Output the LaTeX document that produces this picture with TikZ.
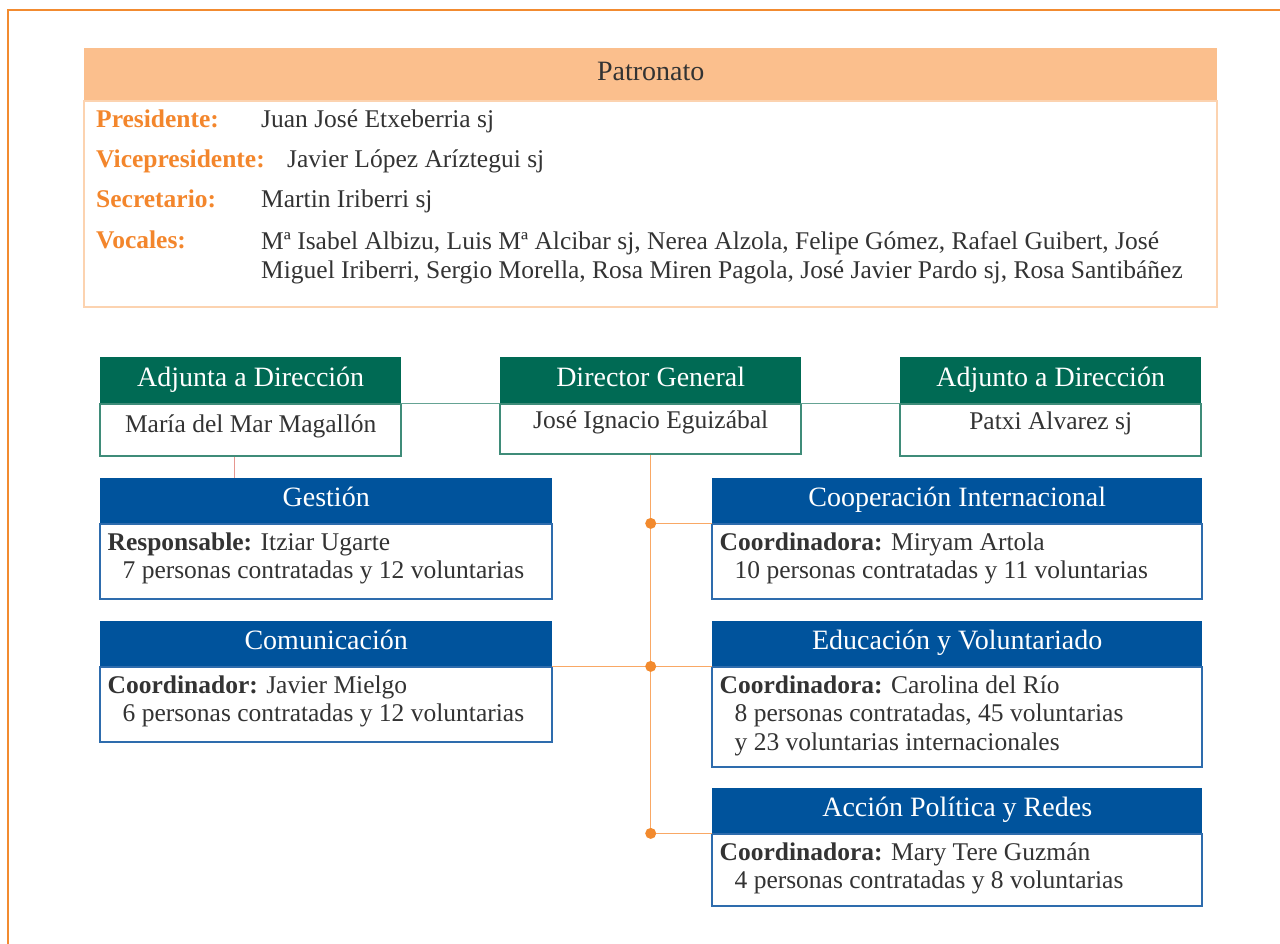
\documentclass[tikz,border=0pt]{standalone}
\usepackage{fontspec}
\setmainfont{Liberation Serif}
\usetikzlibrary{positioning}

\definecolor{framecol}{HTML}{F28B30}
\definecolor{peach}{HTML}{FBBF8D}
\definecolor{peachline}{HTML}{FCD3B0}
\definecolor{labelcol}{HTML}{F3862C}
\definecolor{textgray}{HTML}{333333}
\definecolor{dirgreen}{HTML}{006A54}
\definecolor{dirline}{HTML}{3F8C79}
\definecolor{areablue}{HTML}{00539C}
\definecolor{arealine}{HTML}{2E6CAD}
\definecolor{trunkcol}{HTML}{F9A865}
\definecolor{dotcol}{HTML}{F28A2E}
\definecolor{pinkcol}{HTML}{E6968F}

\tikzset{
  headfont/.style={font=\fontsize{28}{30}\selectfont},
  bodyfont/.style={font=\fontsize{25.5}{28.5}\selectfont},
  labelfont/.style={font=\fontsize{25.5}{28.5}\selectfont\bfseries},
  patrohead/.style={fill=peach, text=textgray, headfont, minimum width=1133pt,
    inner sep=0pt, text height=32pt, text depth=20pt, anchor=north west},
  patrobody/.style={draw=peachline, line width=1.5pt, minimum width=1133pt,
    minimum height=206pt, inner sep=0pt},
  patrolabel/.style={text=labelcol, labelfont, inner sep=0pt, anchor=base west},
  patroname/.style={text=textgray, bodyfont, inner sep=0pt, anchor=base west, align=left},
  greenhead/.style={fill=dirgreen, text=white, headfont, minimum width=301pt,
    inner sep=0pt, text height=29pt, text depth=17pt, anchor=north west},
  greenbody/.style={draw=dirline, line width=1.5pt, fill=white, text=textgray, bodyfont,
    minimum width=301pt, inner sep=0pt, text height=28pt, text depth=24pt},
  bluehead/.style={fill=areablue, text=white, headfont, inner sep=0pt,
    text height=28pt, text depth=17pt, anchor=north west},
  bluebody/.style={draw=arealine, line width=1.5pt, fill=white, inner sep=0pt},
  areatext/.style={text=textgray, bodyfont, align=left, inner sep=0pt},
  dirconn/.style={draw=dirline!80, line width=1.5pt},
  pinkconn/.style={draw=pinkcol, line width=1.5pt},
  trunk/.style={draw=trunkcol, line width=1.5pt}
}

\begin{document}
\begin{tikzpicture}[x=1pt, y=-1pt]
  \useasboundingbox (0,0) rectangle (1280,944);
  \draw[framecol, line width=1.5pt] (8,944) -- (8,10) -- (1280,10);

  % Patronato
  \node[patrohead] (patrohead) at (84,48) {Patronato};
  \node[patrobody, below=0pt of patrohead] (patrobody) {};
  \node[patrolabel] (lpres) at (96,128) {Presidente:};
  \node[patroname] (npres) at (261,128) {Juan José Etxeberria sj};
  \node[patrolabel] (lvice) at (96,168) {Vicepresidente:};
  \node[patroname] (nvice) at (287,168) {Javier López Aríztegui sj};
  \node[patrolabel] (lsecr) at (96,208) {Secretario:};
  \node[patroname] (nsecr) at (261,208) {Martin Iriberri sj};
  \node[patrolabel] (lvoca) at (96,249) {Vocales:};
  \node[patroname, anchor=north west] (nvoca) at (261,231.5)
    {Mª Isabel Albizu, Luis Mª Alcibar sj, Nerea Alzola, Felipe Gómez, Rafael Guibert, José\\
     Miguel Iriberri, Sergio Morella, Rosa Miren Pagola, José Javier Pardo sj, Rosa Santibáñez};

  % Direccion
  \node[greenhead] (adjAhead) at (100,357) {Adjunta a Dirección};
  \node[greenbody, below=0pt of adjAhead] (adjAbody) {María del Mar Magallón};
  \node[greenhead] (dirhead) at (500,357) {Director General};
  \node[greenbody, below=0pt of dirhead, text height=24pt, text depth=26pt] (dirbody)
    {José Ignacio Eguizábal};
  \node[greenhead] (adjOhead) at (900,357) {Adjunto a Dirección};
  \node[greenbody, below=0pt of adjOhead, text height=25pt, text depth=27pt] (adjObody)
    {Patxi Alvarez sj};

  % Areas
  \node[bluehead, minimum width=452pt] (gesthead) at (100,478) {Gestión};
  \node[bluebody, minimum width=452pt, minimum height=75pt, below=0pt of gesthead] (gestbody) {};
  \node[areatext, below right=9pt and 8pt of gestbody.north west] (gesttext)
    {\textbf{Responsable:} Itziar Ugarte\\
     \hspace*{15pt}7 personas contratadas y 12 voluntarias};

  \node[bluehead, minimum width=452pt] (comhead) at (100,621) {Comunicación};
  \node[bluebody, minimum width=452pt, minimum height=75pt, below=0pt of comhead] (combody) {};
  \node[areatext, below right=9pt and 8pt of combody.north west] (comtext)
    {\textbf{Coordinador:} Javier Mielgo\\
     \hspace*{15pt}6 personas contratadas y 12 voluntarias};

  \node[bluehead, minimum width=490pt] (coophead) at (712,478) {Cooperación Internacional};
  \node[bluebody, minimum width=490pt, minimum height=75pt, below=0pt of coophead] (coopbody) {};
  \node[areatext, below right=9pt and 8pt of coopbody.north west] (cooptext)
    {\textbf{Coordinadora:} Miryam Artola\\
     \hspace*{15pt}10 personas contratadas y 11 voluntarias};

  \node[bluehead, minimum width=490pt] (eduhead) at (712,621) {Educación y Voluntariado};
  \node[bluebody, minimum width=490pt, minimum height=100pt, below=0pt of eduhead] (edubody) {};
  \node[areatext, below right=9pt and 8pt of edubody.north west] (edutext)
    {\textbf{Coordinadora:} Carolina del Río\\
     \hspace*{15pt}8 personas contratadas, 45 voluntarias\\
     \hspace*{15pt}y 23 voluntarias internacionales};

  \node[bluehead, minimum width=490pt] (acchead) at (712,788) {Acción Política y Redes};
  \node[bluebody, minimum width=490pt, minimum height=72pt, below=0pt of acchead] (accbody) {};
  \node[areatext, below right=9pt and 8pt of accbody.north west] (acctext)
    {\textbf{Coordinadora:} Mary Tere Guzmán\\
     \hspace*{15pt}4 personas contratadas y 8 voluntarias};

  % connectors
  \draw[dirconn] (adjAhead.south east) -- (dirhead.south west);
  \draw[dirconn] (dirhead.south east) -- (adjOhead.south west);
  \draw[pinkconn] ([xshift=-16pt]adjAbody.south) -- ([xshift=-16pt]adjAbody.south |- gesthead.north);

  \coordinate (jcoop) at (dirbody.south |- coophead.south west);
  \coordinate (jedu) at (dirbody.south |- eduhead.south west);
  \coordinate (jacc) at (dirbody.south |- acchead.south west);
  \draw[trunk] (dirbody.south) -- (jacc);
  \draw[trunk] (jcoop) -- (coophead.south west);
  \draw[trunk] (comhead.south east) -- (eduhead.south west);
  \draw[trunk] (jacc) -- (acchead.south west);
  \foreach \j in {jcoop,jedu,jacc}
    \fill[dotcol] (\j) circle (5.5pt);
\end{tikzpicture}
\end{document}
